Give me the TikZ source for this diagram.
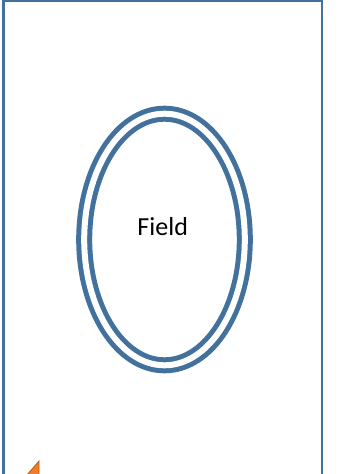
\documentclass[tikz,border=0pt]{standalone}
\usepackage{fontspec}
\setmainfont{Carlito}
\usetikzlibrary{shapes.geometric}

\definecolor{frameblue}{RGB}{65,113,156}
\definecolor{markorange}{RGB}{237,125,49}
\definecolor{markedge}{RGB}{197,90,17}

\begin{document}
\begin{tikzpicture}[x=1pt,y=-1pt,
  fieldring/.style={draw=frameblue,ellipse,line width=5pt,double=white,double distance=6pt,
    minimum width=160.6pt,minimum height=251.6pt,inner sep=0pt},
  fieldtext/.style={font=\fontsize{26}{31}\selectfont,inner sep=0pt}]
\useasboundingbox (0,0) rectangle (339,474);
\draw[frameblue,line width=2.5pt] (3.5,0.5) rectangle (322,500);
\node[fieldring] (field) at (164.5,239.5) {};
\node[fieldtext] (fieldlabel) at (162.7,227) {Field};
\draw[fill=markorange,draw=markedge,line width=0.8pt] (26,476) -- (39,461) -- (39,476) -- cycle;
\end{tikzpicture}
\end{document}
